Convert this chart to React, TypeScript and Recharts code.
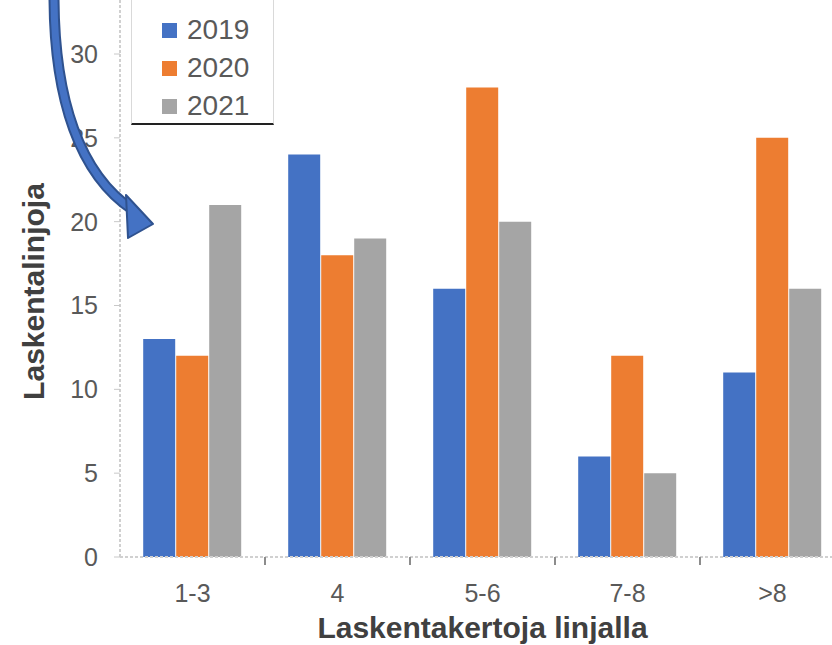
import { Bar, BarChart, Legend, XAxis, YAxis } from 'recharts'

const categories = ['1-3', '4', '5-6', '7-8', '>8']
const v2019 = [13, 24, 16, 6, 11]
const v2020 = [12, 18, 28, 12, 25]
const v2021 = [21, 19, 20, 5, 16]
const yTicks = [0, 5, 10, 15, 20, 25, 30]

const data = categories.map((c, i) => ({
  cat: c,
  '2019': v2019[i],
  '2020': v2020[i],
  '2021': v2021[i],
}))

const FONT = '"Liberation Sans", Arial, sans-serif'
const TICK_COLOR = '#595959'
const X_TICK_MARGIN = 27

function LegendBox({ payload }: { payload?: any[] }) {
  return (
    <div
      style={{
        width: 143,
        height: 130,
        boxSizing: 'border-box',
        borderLeft: '1px solid #d9d9d9',
        borderRight: '1px solid #d9d9d9',
        borderBottom: '2px solid #222',
        paddingTop: 16,
        paddingLeft: 30,
      }}
    >
      {(payload ?? []).map((p) => (
        <div
          key={p.value}
          style={{ display: 'flex', alignItems: 'center', height: 38, fontSize: 28, color: TICK_COLOR }}
        >
          <span style={{ width: 15, height: 15, background: p.color, marginRight: 10 }} />
          {p.value}
        </div>
      ))}
    </div>
  )
}

// category label plus the short separator tick on the right edge of the band
function XTick({ x, y, payload, index }: any) {
  const half = payload?.offset || 72.5
  const axisY = y - X_TICK_MARGIN
  return (
    <g>
      <text x={x} y={y} dy="0.71em" textAnchor="middle" fontSize={25} fill={TICK_COLOR} fontFamily={FONT}>
        {payload.value}
      </text>
      {index < categories.length - 1 && (
        <line x1={x + half} x2={x + half} y1={axisY} y2={axisY + 8} stroke="#8c8c8c" strokeWidth={2} />
      )}
    </g>
  )
}

function YLabel({ viewBox }: any) {
  const cx = 44
  const cy = viewBox.y + viewBox.height / 2 - 14
  return (
    <text
      x={cx}
      y={cy}
      transform={`rotate(-90, ${cx}, ${cy})`}
      textAnchor="middle"
      fontSize={30}
      fontWeight="bold"
      fill="#404040"
      fontFamily={FONT}
    >
      Laskentalinjoja
    </text>
  )
}

export default function App() {
  return (
    <div
      style={{
        position: 'absolute',
        left: 0,
        top: 0,
        width: 832,
        height: 645,
        overflow: 'hidden',
        background: '#fff',
        fontFamily: FONT,
      }}
    >
      <BarChart
        width={850}
        height={645}
        data={data}
        margin={{ top: 54, right: 5, bottom: 0, left: 0 }}
        barCategoryGap="16%"
        barGap={1}
      >
        <XAxis
          dataKey="cat"
          height={88}
          tickLine={false}
          tickSize={0}
          tickMargin={X_TICK_MARGIN}
          tick={<XTick />}
          interval={0}
          axisLine={{ stroke: '#d0d0d0', strokeWidth: 2, strokeDasharray: '3 2' }}
          label={{
            value: 'Laskentakertoja linjalla',
            position: 'insideBottom',
            offset: 7,
            fontSize: 30,
            fontWeight: 'bold',
            fill: '#404040',
            fontFamily: FONT,
          }}
        />
        <YAxis
          width={120}
          domain={[0, 30]}
          ticks={yTicks}
          interval={0}
          tickSize={6}
          tickMargin={16}
          tickLine={{ stroke: '#c8c8c8' }}
          axisLine={{ stroke: '#d0d0d0', strokeWidth: 2, strokeDasharray: '3 2' }}
          tick={{ fontSize: 25, fill: TICK_COLOR, fontFamily: FONT }}
          label={<YLabel />}
        />
        <Legend
          layout="vertical"
          align="center"
          verticalAlign="middle"
          content={<LegendBox />}
          wrapperStyle={{ position: 'absolute', left: 131, top: -5, width: 143, height: 130 }}
        />
        <Bar dataKey="2019" fill="#4472C4" isAnimationActive={false} />
        <Bar dataKey="2020" fill="#ED7D31" isAnimationActive={false} />
        <Bar dataKey="2021" fill="#A5A5A5" isAnimationActive={false} />
      </BarChart>
      <svg
        width={832}
        height={645}
        style={{ position: 'absolute', left: 0, top: 0, pointerEvents: 'none' }}
      >
        <line x1={120} y1={0} x2={120} y2={54} stroke="#d0d0d0" strokeWidth={2} strokeDasharray="3 2" />
        <path d="M 54 -4 C 54 100, 80 175, 133 210" fill="none" stroke="#2F528F" strokeWidth={11} />
        <path d="M 54 -4 C 54 100, 80 175, 133 210" fill="none" stroke="#4472C4" strokeWidth={7} />
        <polygon points="126,195 153,224 128,238" fill="#4472C4" stroke="#2F528F" strokeWidth={2} strokeLinejoin="round" />
      </svg>
    </div>
  )
}
